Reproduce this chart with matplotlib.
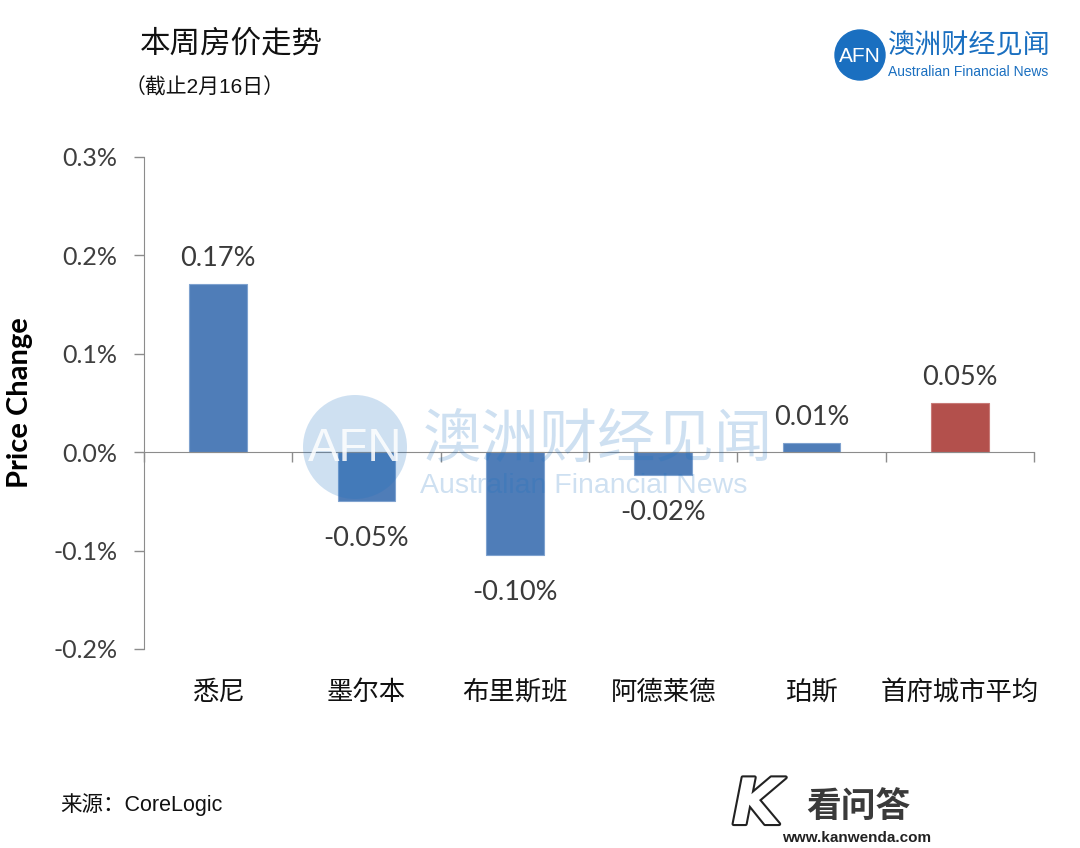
import matplotlib
matplotlib.use('Agg')
import matplotlib.pyplot as plt
from matplotlib.patches import Circle
import matplotlib.patheffects as pe

plt.rcParams['font.family'] = ['Lato', 'Noto Sans CJK SC', 'DejaVu Sans']

cities = ['悉尼', '墨尔本', '布里斯班', '阿德莱德', '珀斯', '首府城市平均']
change = [0.171, -0.050, -0.104, -0.023, 0.009, 0.050]
bar_colors = ['#4f7db8'] * 5 + ['#b3504c']
yticks = [-0.2, -0.1, 0.0, 0.1, 0.2, 0.3]

cjk = ['Noto Sans CJK SC', 'DejaVu Sans']
latin_cjk = ['Liberation Sans', 'Noto Sans CJK SC']
afn_blue = '#1a6fc0'
axis_gray = '#8c8c8c'

fig = plt.figure(figsize=(10.8, 8.48), dpi=100)
ax = fig.add_axes([144 / 1080, 1 - 649 / 848, (1034 - 144) / 1080, (649 - 157) / 848])

x = range(len(cities))
ax.bar(x, change, width=0.39, color=bar_colors, edgecolor='#7fa2cf', linewidth=0.8, zorder=2)
ax.patches[-1].set_edgecolor('#c87a77')

# data labels
for i, v in enumerate(change):
    off = 9.5 if v >= 0 else -18
    ax.annotate(f'{v:.2f}%', xy=(i, v), xytext=(0, off), textcoords='offset points',
                ha='center', va='bottom' if v >= 0 else 'top', fontsize=19.5, color='#3a3a3a')

ax.set_xlim(-0.5, len(cities) - 0.5)
ax.set_ylim(-0.2, 0.3)
ax.set_yticks(yticks)
ax.set_yticklabels([f'{t:.1f}%' for t in yticks], fontsize=18, color='#3f3f3f')
ax.tick_params(axis='y', length=7, width=1, color=axis_gray, pad=12)

ax.spines['top'].set_visible(False)
ax.spines['right'].set_visible(False)
ax.spines['left'].set_color(axis_gray)
ax.spines['bottom'].set_color(axis_gray)
ax.spines['bottom'].set_position(('data', 0))

ax.set_xticks([])
ax.set_xticks([i - 0.5 for i in range(len(cities) + 1)], minor=True)
ax.tick_params(axis='x', which='minor', direction='out', length=7, width=1, color=axis_gray)
for i, c in enumerate(cities):
    ax.text(i, -0.0875, c, transform=ax.get_xaxis_transform(), ha='center', va='center',
            fontsize=19, family=cjk, color='#111111')

ax.set_ylabel('Price Change', fontsize=21, fontweight='bold')
ax.yaxis.set_label_coords(-0.125, 0.5)

# titles
fig.text(140 / 1080, 1 - 45 / 848, '本周房价走势', fontsize=22, family=latin_cjk, va='center', color='#111111')
fig.text(125 / 1080, 1 - 87 / 848, '（截止2月16日）', fontsize=15, family=latin_cjk, va='center', color='#111111')
fig.text(60 / 1080, 1 - 805 / 848, '来源：CoreLogic', fontsize=15.5, family=latin_cjk, va='center', color='#111111')

# top right logo
fig.add_artist(Circle((8.60, (848 - 55) / 100), 0.25, transform=fig.dpi_scale_trans,
                      color=afn_blue, zorder=5))
fig.text(860 / 1080, 1 - 56 / 848, 'AFN', fontsize=15, color='white', ha='center', va='center',
         family=['Liberation Sans'], zorder=6)
fig.text(888 / 1080, 1 - 46 / 848, '澳洲财经见闻', fontsize=19.5, color=afn_blue, va='center',
         family=cjk, fontweight='medium')
fig.text(888 / 1080, 1 - 72 / 848, 'Australian Financial News', fontsize=10, color=afn_blue,
         va='center', family=['Liberation Sans'])

# watermark
fig.add_artist(Circle((3.55, (848 - 447) / 100), 0.52, transform=fig.dpi_scale_trans,
                      color=afn_blue, alpha=0.21, zorder=10, lw=0))
fig.text(355 / 1080, 1 - 449 / 848, 'AFN', fontsize=34, color='white', alpha=0.85, ha='center',
         va='center', family=['Liberation Sans'], zorder=11)
fig.text(423 / 1080, 1 - 440 / 848, '澳洲财经见闻', fontsize=42, color=afn_blue, alpha=0.21,
         va='center', family=cjk, zorder=10)
fig.text(420 / 1080, 1 - 486 / 848, 'Australian Financial News', fontsize=20.5, color=afn_blue,
         alpha=0.21, va='center', family=['Liberation Sans'], zorder=10)

# kanwenda logo
fig.text(757 / 1080, 1 - 806 / 848, 'K', fontsize=46, color='white', ha='center', va='center',
         family=['DejaVu Sans'], style='italic', fontweight='bold',
         path_effects=[pe.Stroke(linewidth=3, foreground='#222222'), pe.Normal()])
fig.text(858 / 1080, 1 - 806 / 848, '看问答', fontsize=25, color='#3a3a3a', ha='center',
         va='center', family=cjk, fontweight='bold')
fig.text(857 / 1080, 1 - 838 / 848, 'www.kanwenda.com', fontsize=11, color='#222222', ha='center',
         va='center', family=['Liberation Sans'], fontweight='bold')

fig.savefig('out.png', dpi=100, facecolor='white')
